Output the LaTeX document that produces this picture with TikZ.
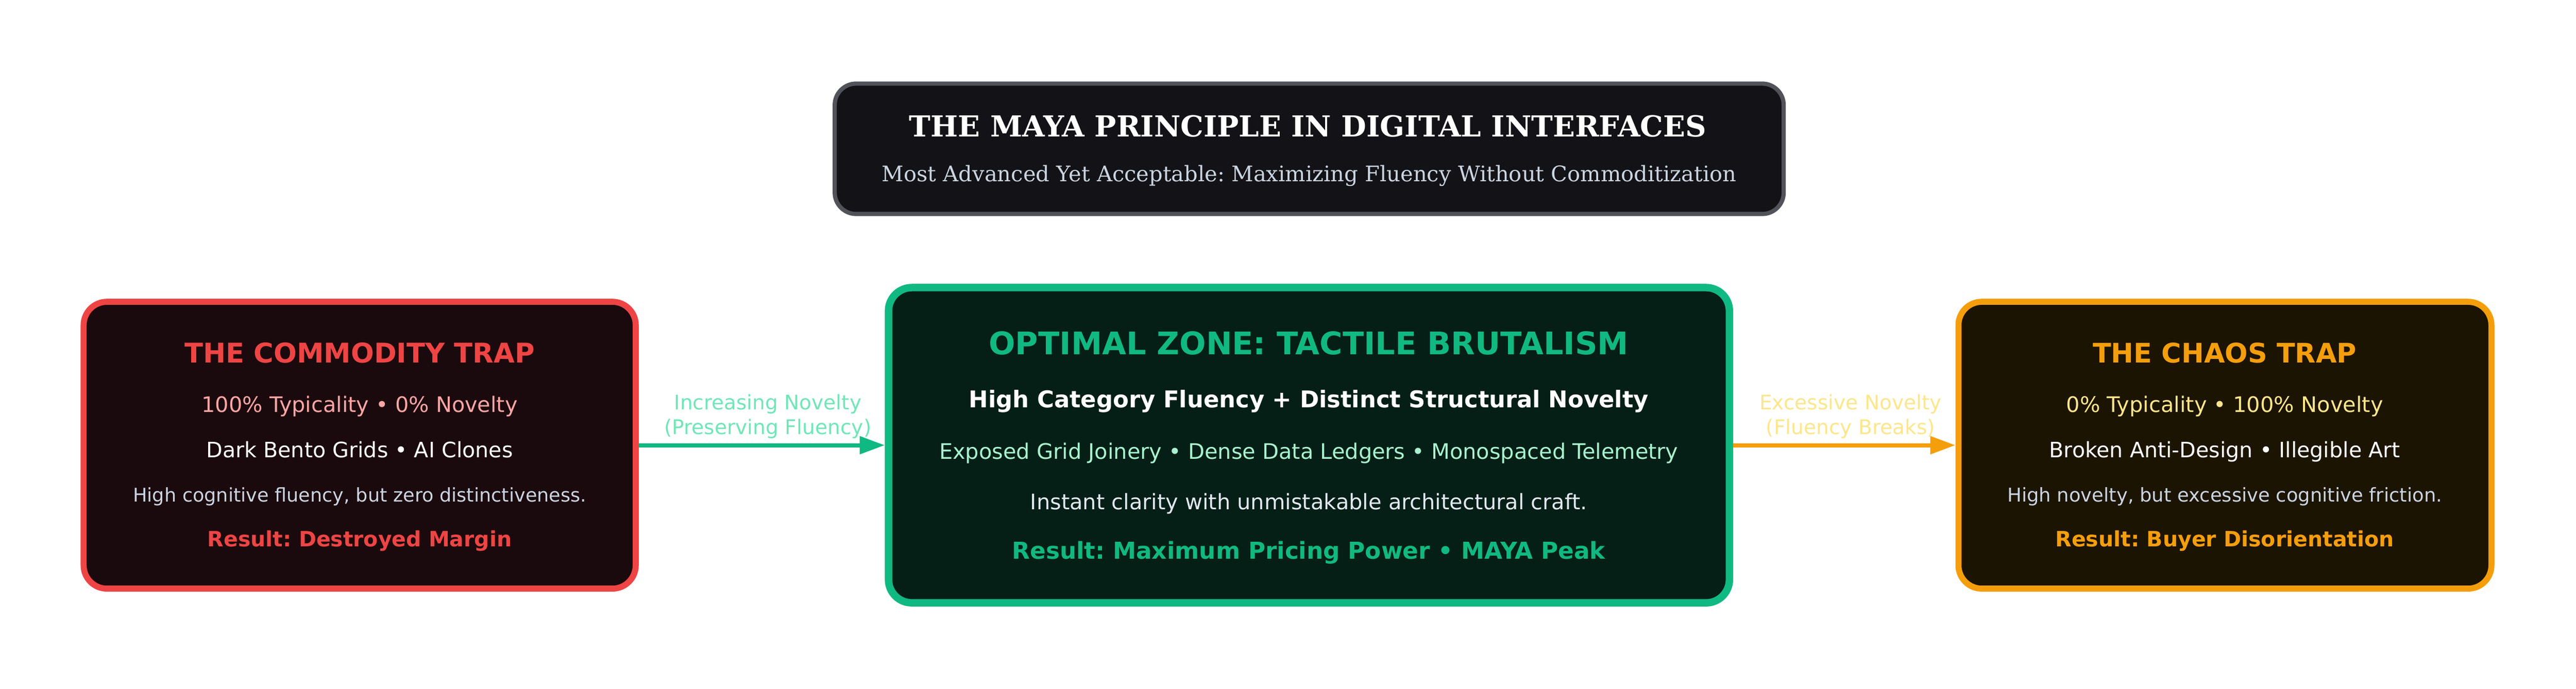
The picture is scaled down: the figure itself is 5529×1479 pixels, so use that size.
\documentclass[tikz,border=0pt]{standalone}
\usepackage{fontspec}
\setmainfont{DejaVu Sans}
\newfontfamily\serifdj{DejaVu Serif}
\usetikzlibrary{arrows.meta}
\frenchspacing
\definecolor{headfill}{HTML}{131317}
\definecolor{headline}{HTML}{52525B}
\definecolor{subgray}{HTML}{CBD5E1}
\definecolor{redc}{HTML}{EF4444}
\definecolor{redfill}{HTML}{1B0A0D}
\definecolor{redlight}{HTML}{FCA5A5}
\definecolor{greenc}{HTML}{10B981}
\definecolor{greenfill}{HTML}{061F16}
\definecolor{greenlight}{HTML}{A7F3D0}
\definecolor{greenlab}{HTML}{6EE7B7}
\definecolor{centergray}{HTML}{E2E8F0}
\definecolor{orangec}{HTML}{F59E0B}
\definecolor{orangefill}{HTML}{1C1403}
\definecolor{yellowlight}{HTML}{FDE68A}
\newcommand\fitw[2]{\resizebox{#1}{!}{#2}}
\newcommand\fs[1]{\fontsize{#1}{#1}\selectfont\frenchspacing}
\begin{document}
\begin{tikzpicture}[x=0.1pt,y=-0.1pt,
  card/.style={draw, rounded corners=5pt, inner sep=0pt},
  txt/.style={anchor=base, inner sep=0pt, outer sep=0pt},
  flow/.style={line width=0.9pt, -{Triangle[length=5.4pt,width=3.7pt]}}]
\useasboundingbox[fill=white] (0,0) rectangle (5529,1479);

% header
\node[card, draw=headline, fill=headfill, line width=0.9pt, rounded corners=4.6pt,
      minimum width=203.7pt, minimum height=28pt] (head) at (2810,319.5) {};
\node[txt, text=white] (headT) at (2807,293)
  {\fitw{171.1pt}{\serifdj\bfseries\fs{6.4pt}THE MAYA PRINCIPLE IN DIGITAL INTERFACES}};
\node[txt, text=subgray] (headS) at (2810,390)
  {\fitw{183.4pt}{\serifdj\fs{4.7pt}Most Advanced Yet Acceptable: Maximizing Fluency Without Commoditization}};

% boxes
\node[card, draw=redc, fill=redfill, line width=1.3pt,
      minimum width=118.5pt, minimum height=61.6pt] (L) at (772,956) {};
\node[card, draw=greenc, fill=greenfill, line width=1.6pt,
      minimum width=180.5pt, minimum height=67.7pt] (C) at (2809.5,956) {};
\node[card, draw=orangec, fill=orangefill, line width=1.3pt,
      minimum width=114.4pt, minimum height=61.6pt] (R) at (4775.5,956) {};

% left texts
\node[txt, text=redc] (L1) at (772,779) {\fitw{75.2pt}{\bfseries\fs{5.8pt}THE COMMODITY TRAP}};
\node[txt, text=redlight] (L2) at (772,885) {\fitw{67.8pt}{\fs{4.6pt}100\% Typicality • 0\% Novelty}};
\node[txt, text=white] (L3) at (772,983) {\fitw{65.8pt}{\fs{4.6pt}Dark Bento Grids • AI Clones}};
\node[txt, text=subgray] (L4) at (772,1078) {\fitw{97.3pt}{\fs{4.0pt}High cognitive fluency, but zero distinctiveness.}};
\node[txt, text=redc] (L5) at (772,1174) {\fitw{65.3pt}{\bfseries\fs{4.6pt}Result: Destroyed Margin}};

% center texts
\node[txt, text=greenc] (C1) at (2809,761) {\fitw{137.3pt}{\bfseries\fs{6.6pt}OPTIMAL ZONE: TACTILE BRUTALISM}};
\node[txt, text=white] (C2) at (2809,875) {\fitw{145.9pt}{\bfseries\fs{5.0pt}High Category Fluency + Distinct Structural Novelty}};
\node[txt, text=greenlight] (C3) at (2809,986) {\fitw{158.6pt}{\fs{4.6pt}Exposed Grid Joinery • Dense Data Ledgers • Monospaced Telemetry}};
\node[txt, text=centergray] (C4) at (2809,1094) {\fitw{119.5pt}{\fs{4.4pt}Instant clarity with unmistakable architectural craft.}};
\node[txt, text=greenc] (C5) at (2809,1200) {\fitw{127.3pt}{\bfseries\fs{5.0pt}Result: Maximum Pricing Power • MAYA Peak}};

% right texts
\node[txt, text=orangec] (R1) at (4775,779) {\fitw{56.6pt}{\bfseries\fs{5.8pt}THE CHAOS TRAP}};
\node[txt, text=yellowlight] (R2) at (4775,885) {\fitw{68pt}{\fs{4.6pt}0\% Typicality • 100\% Novelty}};
\node[txt, text=white] (R3) at (4775,983) {\fitw{75.3pt}{\fs{4.6pt}Broken Anti-Design • Illegible Art}};
\node[txt, text=subgray] (R4) at (4775,1078) {\fitw{93.3pt}{\fs{4.0pt}High novelty, but excessive cognitive friction.}};
\node[txt, text=orangec] (R5) at (4775,1174) {\fitw{72.7pt}{\bfseries\fs{4.6pt}Result: Buyer Disorientation}};

% connectors
\draw[flow, draw=greenc, fill=greenc] (L.east) -- (C.west);
\draw[flow, draw=orangec, fill=orangec] (C.east) -- (R.west);
\node[txt, text=greenlab] (A1a) at (1648,880) {\fitw{40.2pt}{\fs{4.4pt}Increasing Novelty}};
\node[txt, text=greenlab] (A1b) at (1648,933) {\fitw{44.5pt}{\fs{4.4pt}(Preserving Fluency)}};
\node[txt, text=yellowlight] (A2a) at (3972,880) {\fitw{39.1pt}{\fs{4.4pt}Excessive Novelty}};
\node[txt, text=yellowlight] (A2b) at (3972,933) {\fitw{36.3pt}{\fs{4.4pt}(Fluency Breaks)}};
\end{tikzpicture}
\end{document}
